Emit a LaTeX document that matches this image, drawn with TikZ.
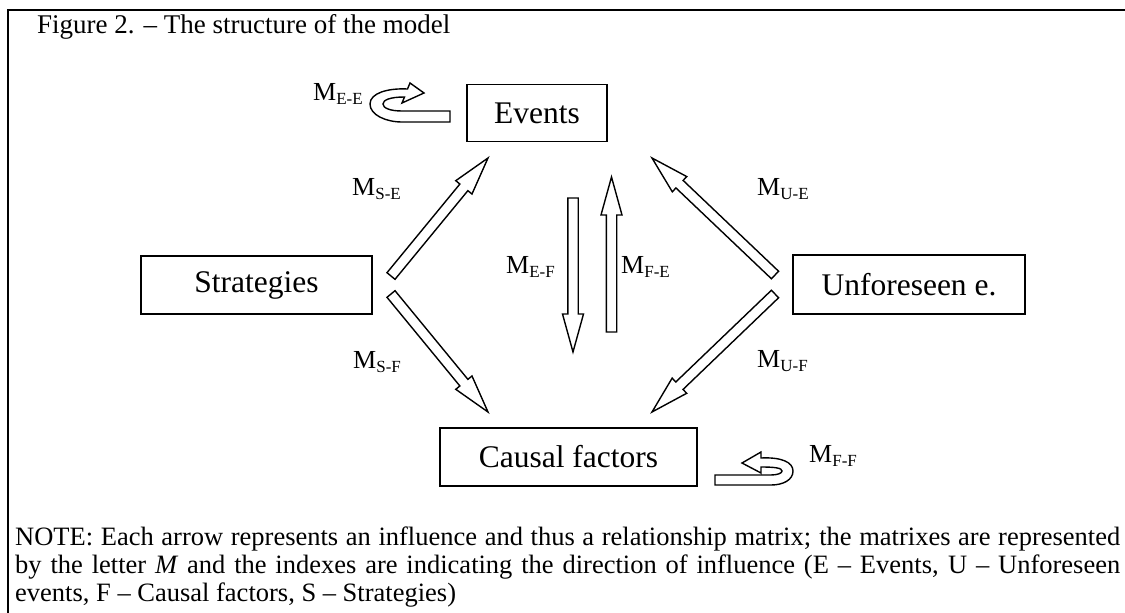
\documentclass[tikz,border=0pt]{standalone}
\usepackage{fontspec}
\setmainfont{Liberation Serif}
\usetikzlibrary{calc}
\tikzset{
  box/.style={draw, line width=1.4pt, inner sep=0pt, font=\fontsize{31.5}{36}\selectfont},
  barrow/.style={draw, fill=white, line width=1.4pt, line join=miter},
  lab/.style={inner sep=0pt, anchor=base west},
  frame/.style={line width=2pt},
}
\newcommand\mlab[1]{{\fontsize{26}{28}\selectfont M}\raisebox{-4pt}{\fontsize{17}{18}\selectfont #1}}
\newcommand\blockarrow[2]{%
  \coordinate (ban) at ($(#2)!38pt!(#1)$);
  \draw[barrow] ($(#1)!5.2pt!90:(#2)$) -- ($(ban)!5.2pt!-90:(#1)$) -- ($(ban)!10.5pt!-90:(#1)$) -- (#2)
     -- ($(ban)!10.5pt!90:(#1)$) -- ($(ban)!5.2pt!90:(#1)$) -- ($(#1)!5.2pt!-90:(#2)$) -- cycle;}
\begin{document}
\begin{tikzpicture}[x=1pt, y=-1pt]
\useasboundingbox (0,0) rectangle (1125,613);
% frame
\coordinate (fbl) at (8,613);
\coordinate (ftl) at (8,10);
\coordinate (ftr) at (1125,10);
\draw[frame] (fbl) -- (ftl) -- (ftr);
% title
\node[lab, font=\fontsize{27}{30}\selectfont] (title) at (37,33) {Figure 2. – The structure of the model};
% boxes
\node[box, minimum width=140pt, minimum height=57pt] (ev) at (537,113) {Events};
\node[box, minimum width=231pt, minimum height=58pt] (st) at (256.5,285) {Strategies};
\node[box, minimum width=232pt, minimum height=59pt] (un) at (909,284.5) {Unforeseen e.};
\node[box, minimum width=257pt, minimum height=58pt] (cf) at (568.5,457) {Causal factors};
% arrow end points
\coordinate (se0) at (391,276); \coordinate (se1) at (488,158);
\coordinate (sf0) at (391,294); \coordinate (sf1) at (488,412);
\coordinate (ue0) at (775,275); \coordinate (ue1) at (652,158);
\coordinate (uf0) at (775,294); \coordinate (uf1) at (652,412);
\coordinate (ef0) at (573,198); \coordinate (ef1) at (573,352);
\coordinate (fe0) at (611.5,332); \coordinate (fe1) at (611.5,177);
\blockarrow{se0}{se1}
\blockarrow{sf0}{sf1}
\blockarrow{ue0}{ue1}
\blockarrow{uf0}{uf1}
\blockarrow{ef0}{ef1}
\blockarrow{fe0}{fe1}
% u-turn arrows
\draw[barrow] (450,111) -- (450,122) -- (402,122) .. controls (386,122) and (370,115) .. (370,104)
  .. controls (370,93) and (388,88) .. (407.5,89) -- (410,83) -- (424,93) -- (402,103) -- (404.5,97)
  .. controls (390,97) and (383,100) .. (383,104) .. controls (383,108) and (390,111) .. (402,111) -- cycle;
\draw[barrow] (742,463) -- (761,452) -- (761,458) .. controls (781,457) and (793,462) .. (793,471)
  .. controls (793,480) and (783,485) .. (771,485) -- (715,485) -- (715,475) -- (771,475)
  .. controls (778,475) and (782,473) .. (782,471) .. controls (782,468) and (775,467) .. (761,467)
  -- (761,473) -- cycle;
% labels
\node[lab] (lee) at (313,100) {\mlab{E-E}};
\node[lab] (lse) at (352,195) {\mlab{S-E}};
\node[lab] (lsf) at (353,368) {\mlab{S-F}};
\node[lab] (lue) at (757,195) {\mlab{U-E}};
\node[lab] (luf) at (757,367) {\mlab{U-F}};
\node[lab] (lef) at (506,273) {\mlab{E-F}};
\node[lab] (lfe) at (621,273) {\mlab{F-E}};
\node[lab] (lff) at (809,462) {\mlab{F-F}};
% note
\node[anchor=north west, inner sep=0pt, text width=1105pt, align=justify, font=\fontsize{26.5}{28}\selectfont] (note) at (15,527)
 {NOTE: Each arrow represents an influence and thus a relationship matrix; the matrixes are represented\linebreak
  by the letter \textit{M} and the indexes are indicating the direction of influence (E – Events, U – Unforeseen\linebreak
  events, F – Causal factors, S – Strategies)};
\end{tikzpicture}
\end{document}
